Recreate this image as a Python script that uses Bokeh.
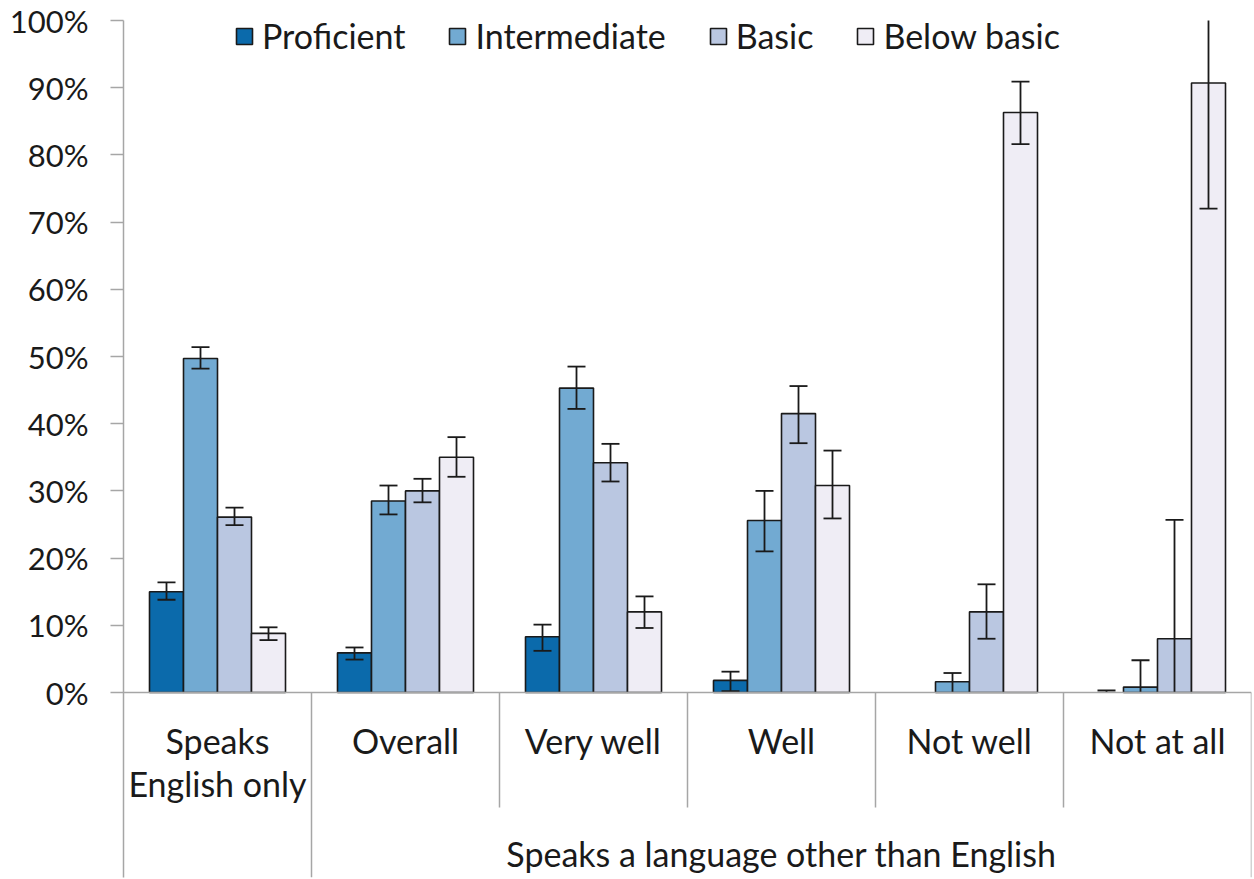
import math

from bokeh.plotting import figure
from bokeh.models import Range1d, FixedTicker, Legend, LegendItem, ColumnDataSource, Span
from bokeh.embed import file_html
from bokeh.resources import INLINE
from bokeh.core.properties import value

# ---- data -------------------------------------------------------------
groups = ["Speaks\nEnglish only", "Overall", "Very well", "Well", "Not well", "Not at all"]
parent_label = "Speaks a language other than English"
series = ["Proficient", "Intermediate", "Basic", "Below basic"]
colors = ["#0b6aab", "#72aad2", "#bac7e1", "#efedf5"]
y_ticks = [0, 10, 20, 30, 40, 50, 60, 70, 80, 90, 100]

proficient    = [15.0, 5.9, 8.3, 1.8, 0.0, 0.0]
proficient_lo = [13.8, 4.9, 6.2, 0.2, None, -0.3]
proficient_hi = [16.4, 6.7, 10.1, 3.1, None, 0.3]

intermediate    = [49.7, 28.5, 45.3, 25.6, 1.6, 0.8]
intermediate_lo = [48.2, 26.5, 42.2, 21.0, -0.2, -3.2]
intermediate_hi = [51.4, 30.8, 48.5, 30.0, 2.9, 4.8]

basic    = [26.1, 30.0, 34.2, 41.5, 12.0, 8.0]
basic_lo = [24.9, 28.3, 31.4, 37.1, 8.0, -9.7]
basic_hi = [27.5, 31.8, 37.0, 45.6, 16.1, 25.7]

below_basic    = [8.8, 35.0, 12.0, 30.8, 86.3, 90.7]
below_basic_lo = [7.8, 32.1, 9.6, 25.9, 81.6, 72.0]
below_basic_hi = [9.7, 38.0, 14.3, 36.0, 90.9, 109.4]

values = [proficient, intermediate, basic, below_basic]
lows = [proficient_lo, intermediate_lo, basic_lo, below_basic_lo]
highs = [proficient_hi, intermediate_hi, basic_hi, below_basic_hi]

# ---- layout -----------------------------------------------------------
W, H = 1254, 879
LEFT, RIGHT, TOP, BOTTOM = 123, 3, 0, 2
AXIS_TOP_PX, AXIS_ZERO_PX = 20, 692      # pixel rows of the 100% and 0% lines
frame_w = W - LEFT - RIGHT
frame_h = H - TOP - BOTTOM
ppu_y = (AXIS_ZERO_PX - AXIS_TOP_PX) / 100
y_max = 100 + (AXIS_TOP_PX - TOP) / ppu_y
y_min = y_max - frame_h / ppu_y
ppu_x = frame_w / len(groups)


def y_at(px_from_top):
    return y_max - (px_from_top - TOP) / ppu_y


FONT = "Lato"
LABEL_SIZE = "34px"
TICK_SIZE = "31px"
TEXT_COLOR = "#1a1a1a"
AXIS_COLOR = "#a6a6a6"
EDGE = "#1a1a1a"

p = figure(
    width=W, height=H,
    x_range=Range1d(0, len(groups)), y_range=Range1d(y_min, y_max),
    x_axis_location=None,
    min_border_left=LEFT, min_border_right=RIGHT,
    min_border_top=TOP, min_border_bottom=BOTTOM,
    output_backend="svg", toolbar_location=None,
)
p.xgrid.visible = False
p.ygrid.visible = False
p.outline_line_color = None

yax = p.yaxis[0]
yax.bounds = (y_min, 100)
yax.ticker = FixedTicker(ticks=y_ticks)
yax.major_label_overrides = {t: f"{t}%" for t in y_ticks}
yax.axis_line_color = AXIS_COLOR
yax.axis_line_width = 1.5
yax.major_tick_line_color = AXIS_COLOR
yax.major_tick_line_width = 1.5
yax.major_tick_out = 13
yax.major_tick_in = 0
yax.minor_tick_line_color = None
yax.major_label_standoff = 22
yax.major_label_text_font = FONT
yax.major_label_text_font_size = TICK_SIZE
yax.major_label_text_color = TEXT_COLOR

# ---- bars and error bars ---------------------------------------------
n = len(series)
bar_w = 34 / ppu_x
cap_half = 9 / ppu_x
bar_renderers = []
for k, (name, col, vals, lo, hi) in enumerate(zip(series, colors, values, lows, highs)):
    xs = [g + 0.5 + (k - (n - 1) / 2) * bar_w for g in range(len(groups))]
    keep = [i for i, v in enumerate(vals) if v > 0]
    src = ColumnDataSource(dict(x=[xs[i] for i in keep], top=[vals[i] for i in keep]))
    r = p.vbar(x="x", top="top", bottom=0, width=bar_w, source=src,
               fill_color=col, line_color=EDGE, line_width=1.6)
    bar_renderers.append(r)

    # whisker stems, clipped to the 0-100% value axis
    sx, sy0, sy1 = [], [], []
    cx0, cx1, cy = [], [], []
    for i in range(len(groups)):
        if lo[i] is None or hi[i] is None:
            continue
        sx.append(xs[i])
        sy0.append(max(lo[i], 0))
        sy1.append(min(hi[i], 100))
        for b in (lo[i], hi[i]):
            if 0 <= b <= 100:
                cx0.append(xs[i] - cap_half)
                cx1.append(xs[i] + cap_half)
                cy.append(b)
    p.segment(x0=sx, x1=sx, y0=sy0, y1=sy1, line_color=EDGE, line_width=1.8)
    p.segment(x0=cx0, x1=cx1, y0=cy, y1=cy, line_color=EDGE, line_width=1.8)

# ---- category axis drawn as a table below the 0% line ------------------
p.add_layout(Span(location=0, dimension="width", line_color=AXIS_COLOR, line_width=1.5))

inner_bottom = y_at(807)
sep_x, sep_y1 = [], []
for b in range(1, len(groups) + 1):
    sep_x.append(b)
    sep_y1.append(y_min if b in (1, len(groups)) else inner_bottom)
p.segment(x0=sep_x, x1=sep_x, y0=[0] * len(sep_x), y1=sep_y1,
          line_color=AXIS_COLOR, line_width=1.5)

first_lines = [g.split("\n")[0] for g in groups]
second = [(i + 0.5, g.split("\n")[1]) for i, g in enumerate(groups) if "\n" in g]
p.text(x=[i + 0.5 for i in range(len(groups))], y=[y_at(740)] * len(groups),
       text=first_lines, text_align="center", text_baseline="middle",
       text_font=value(FONT), text_font_size=LABEL_SIZE, text_color=TEXT_COLOR)
p.text(x=[s[0] for s in second], y=[y_at(783)] * len(second), text=[s[1] for s in second],
       text_align="center", text_baseline="middle",
       text_font=value(FONT), text_font_size=LABEL_SIZE, text_color=TEXT_COLOR)
p.text(x=[(1 + len(groups)) / 2], y=[y_at(853)], text=[parent_label],
       text_align="center", text_baseline="middle",
       text_font=value(FONT), text_font_size=LABEL_SIZE, text_color=TEXT_COLOR)

# ---- legend along the top -----------------------------------------------
legend = Legend(
    items=[LegendItem(label=name, renderers=[r]) for name, r in zip(series, bar_renderers)],
    location=(234 - LEFT, H - BOTTOM - 56), orientation="horizontal",
    glyph_width=20, glyph_height=20, label_standoff=8, label_height=40,
    padding=0, margin=0, spacing=42,
    border_line_color=None, background_fill_alpha=0,
    label_text_font=FONT, label_text_font_size=LABEL_SIZE,
    label_text_color=TEXT_COLOR,
)
p.add_layout(legend)

open("out.html", "w").write(file_html(p, INLINE))
